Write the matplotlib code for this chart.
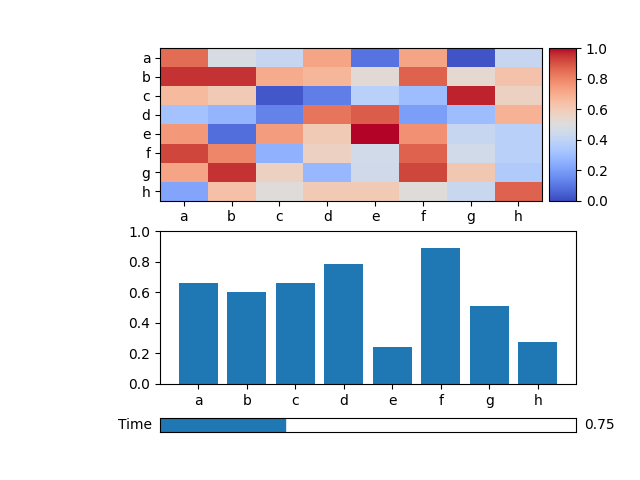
import matplotlib
matplotlib.use("Agg")
import matplotlib.pyplot as plt
import numpy as np
from mpl_toolkits.axes_grid1 import make_axes_locatable

labels = ["a", "b", "c", "d", "e", "f", "g", "h"]

# heatmap rows a..h, columns a..h
row_a = [0.85, 0.48, 0.42, 0.72, 0.09, 0.72, 0.02, 0.42]
row_b = [0.95, 0.95, 0.70, 0.67, 0.52, 0.87, 0.53, 0.63]
row_c = [0.66, 0.60, 0.03, 0.12, 0.38, 0.30, 0.97, 0.57]
row_d = [0.32, 0.27, 0.13, 0.83, 0.88, 0.20, 0.30, 0.68]
row_e = [0.75, 0.08, 0.74, 0.60, 1.00, 0.77, 0.42, 0.38]
row_f = [0.92, 0.79, 0.26, 0.57, 0.46, 0.87, 0.46, 0.38]
row_g = [0.72, 0.95, 0.57, 0.28, 0.45, 0.92, 0.61, 0.35]
row_h = [0.22, 0.64, 0.51, 0.60, 0.60, 0.51, 0.43, 0.87]

bar_values = [0.659, 0.600, 0.659, 0.783, 0.241, 0.893, 0.509, 0.274]

slider_label = "Time"
slider_min = 0.0
slider_max = 2.5
slider_value = 0.75

grid = np.array([row_a, row_b, row_c, row_d, row_e, row_f, row_g, row_h])

fig, (ax_heat, ax_bar) = plt.subplots(2, 1, figsize=(6.4, 4.8), dpi=100)
fig.subplots_adjust(left=0.25, bottom=0.2, top=0.9)

im = ax_heat.imshow(grid, cmap="coolwarm", vmin=0, vmax=1, aspect="auto")
ax_heat.set_xticks(range(len(labels)))
ax_heat.set_xticklabels(labels)
ax_heat.set_yticks(range(len(labels)))
ax_heat.set_yticklabels(labels)
divider = make_axes_locatable(ax_heat)
cax = divider.append_axes("right", size="7%", pad=0.07)
fig.colorbar(im, cax=cax)

ax_bar.bar(labels, bar_values, color="C0")
ax_bar.set_ylim(0, 1)

# old-style slider drawn by hand
ax_slider = fig.add_axes([0.25, 0.1, 0.65, 0.03])
ax_slider.set_xlim(slider_min, slider_max)
ax_slider.set_ylim(0, 1)
ax_slider.axvspan(slider_min, slider_value, 0, 1, color="C0")
ax_slider.set_xticks([])
ax_slider.set_yticks([])
ax_slider.text(-0.02, 0.5, slider_label, transform=ax_slider.transAxes,
               ha="right", va="center")
ax_slider.text(1.02, 0.5, f"{slider_value:.2f}", transform=ax_slider.transAxes,
               ha="left", va="center")

fig.savefig("out.png", dpi=100)
